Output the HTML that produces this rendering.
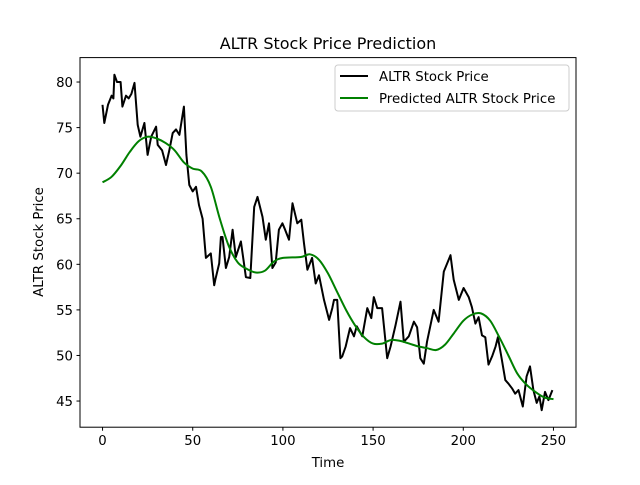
<!DOCTYPE html>
<html><head><meta charset="utf-8"><style>
body{margin:0;background:#fff}
svg text{font-family:"DejaVu Sans","Liberation Sans",sans-serif;fill:#000}
</style></head><body>
<svg id="chart" width="640" height="480" xmlns="http://www.w3.org/2000/svg">
<rect width="640" height="480" fill="#fff"/>
<text x="328" y="49" font-size="16" text-anchor="middle">ALTR Stock Price Prediction</text>
<text x="328" y="467" font-size="13.3" text-anchor="middle">Time</text>
<text x="0" y="0" font-size="13.3" text-anchor="middle" transform="translate(43,242) rotate(-90)">ALTR Stock Price</text>
<g id="ticks"></g>
<g id="series"></g>
<rect x="80" y="57.6" width="496" height="369.6" fill="none" stroke="#000" stroke-width="1"/>
<g>
<rect x="335" y="65" width="234" height="46" rx="3" fill="#fff" fill-opacity="0.8" stroke="#ccc"/>
<line x1="340" y1="76" x2="368" y2="76" stroke="#000" stroke-width="2"/>
<text x="379" y="81" font-size="13.3">ALTR Stock Price</text>
<line x1="340" y1="98" x2="368" y2="98" stroke="green" stroke-width="2"/>
<text x="379" y="103" font-size="13.3">Predicted ALTR Stock Price</text>
</g>
</svg>
<script>
const actualTimes=[0,1,3,5,6,6.6,8,10,11,13,14.5,16,17.7,19.5,21,23.2,25,27,29.7,30.6,33,35.2,37,38.9,40.7,42.6,45.1,46.5,48.1,50,51.8,53.5,55.5,57.3,60,61.9,62.5,64.7,65.6,66.5,68.4,70.2,72.1,73.9,76.7,79.5,81.9,84.1,85.9,88.7,90.5,92.3,94.2,96,97.8,99.7,101.2,103.4,105.3,108,110.2,111.7,113.6,116.2,118.2,120,122.8,125.6,127.4,128.3,130.1,131.9,132.9,134.8,137.2,139.4,140.9,144,146.8,149,150.4,152.3,155,157.8,159.7,162.4,165.2,167,169.8,172.6,174.4,176.2,178.1,179.9,183.6,186.3,189.2,192.9,194.7,197.5,200.2,203,204.8,206.7,208.5,210.4,212.2,214,216,217.9,219.2,221.4,223.3,225.1,227,228.8,230.6,233,235.1,237,238.9,240.7,242.2,243.5,245.3,247.2,249.4];
const actualPrices=[77.5,75.5,77.5,78.5,78.2,80.8,80,80,77.3,78.5,78.2,78.7,79.9,75.3,74,75.5,72,74,75.1,73.1,72.5,70.9,72.5,74.4,74.8,74.2,77.3,72,68.7,68,68.5,66.5,65,60.7,61.2,57.7,58.3,60.1,63,63,59.6,60.8,63.8,60.8,62.5,58.6,58.5,66.3,67.4,65.2,62.7,64.5,59.6,60.2,63.8,64.5,63.8,62.7,66.7,64.5,64.9,62.3,59.4,60.7,57.9,58.8,56.1,53.9,55.2,56.1,56.1,49.7,49.9,51,53,52.1,53.2,52.1,55.2,54.1,56.4,55.2,55.2,49.7,51,53.3,55.9,51.5,52.1,53.7,53.1,49.7,49.1,51.5,55,53.7,59.2,61,58.3,56.1,57.4,56.4,55.3,53.5,54.2,52.2,52,49,49.9,51,52,49.5,47.3,46.9,46.4,45.8,46.2,44.4,47.7,48.8,46.2,44.8,45.5,44,46,45.1,46.2];
const predTimes=[0,5,10,15,20,25,30,35,40,45,50,55,60,65,70,75,80,85,90,95,100,110,115,120,125,130,135,140,145,150,155,160,165,170,175,180,185,190,195,200,205,210,215,220,225,230,235,240,245,250];
const predPrices=[69,69.6,70.8,72.3,73.5,74,73.8,73.3,72.5,71.2,70.5,70.2,68.5,65,62,60.2,59.5,59.1,59.3,60.3,60.7,60.8,61.1,60.5,59,57,55,53.3,52,51.3,51.3,51.7,51.6,51.3,51,50.8,50.6,51.2,52.5,53.8,54.5,54.6,53.8,52,50,48,46.8,46,45.4,45.2];
const xTicks=[0,50,100,150,200,250];
const yTicks=[45,50,55,60,65,70,75,80];
const L=80,R=576,T=57.6,B=427.2,X0=-12.5,X1=262.5,Y0=42.13,Y1=82.68;
function xs(t){return L+(t-X0)/(X1-X0)*(R-L);}
function ys(v){return B-(v-Y0)/(Y1-Y0)*(B-T);}
const NS="http://www.w3.org/2000/svg";
const tg=document.getElementById('ticks');
xTicks.forEach(t=>{
  const l=document.createElementNS(NS,'line');
  
  
  l.setAttribute('x1',xs(t));l.setAttribute('x2',xs(t));l.setAttribute('y1',B);l.setAttribute('y2',B+3.5);l.setAttribute('stroke','#000');
  tg.appendChild(l);
  const tx=document.createElementNS(NS,'text');
  
  
  tx.setAttribute('x',xs(t));tx.setAttribute('y',B+18);tx.setAttribute('font-size','13.3');tx.setAttribute('text-anchor','middle');
  tx.textContent=t;tg.appendChild(tx);
});
yTicks.forEach(v=>{
  const l=document.createElementNS(NS,'line');
  
  
  l.setAttribute('x1',L-3.5);l.setAttribute('x2',L);l.setAttribute('y1',ys(v));l.setAttribute('y2',ys(v));l.setAttribute('stroke','#000');
  tg.appendChild(l);
  const tx=document.createElementNS(NS,'text');
  
  
  tx.setAttribute('x',L-7);tx.setAttribute('y',ys(v)+5);tx.setAttribute('font-size','13.3');tx.setAttribute('text-anchor','end');
  tx.textContent=v;tg.appendChild(tx);
});
const sg=document.getElementById('series');
function line(ts,vs,color,name){
  const p=document.createElementNS(NS,'polyline');
  
  
  p.setAttribute('points',ts.map((t,i)=>xs(t).toFixed(1)+','+ys(vs[i]).toFixed(1)).join(' '));
  p.setAttribute('fill','none');p.setAttribute('stroke',color);p.setAttribute('stroke-width','2');p.setAttribute('stroke-linejoin','round');
  sg.appendChild(p);
}
function smoothLine(ts,vs,color,name){
  const pts=ts.map((t,i)=>[xs(t),ys(vs[i])]);
  let d='M'+pts[0][0].toFixed(1)+','+pts[0][1].toFixed(1);
  for(let i=0;i<pts.length-1;i++){
    const p0=pts[Math.max(i-1,0)],p1=pts[i],p2=pts[i+1],p3=pts[Math.min(i+2,pts.length-1)];
    const c1=[p1[0]+(p2[0]-p0[0])/6,p1[1]+(p2[1]-p0[1])/6];
    const c2=[p2[0]-(p3[0]-p1[0])/6,p2[1]-(p3[1]-p1[1])/6];
    d+=' C'+c1[0].toFixed(1)+','+c1[1].toFixed(1)+' '+c2[0].toFixed(1)+','+c2[1].toFixed(1)+' '+p2[0].toFixed(1)+','+p2[1].toFixed(1);
  }
  const p=document.createElementNS(NS,'path');
  
  
  p.setAttribute('d',d);
  p.setAttribute('fill','none');p.setAttribute('stroke',color);p.setAttribute('stroke-width','2');
  sg.appendChild(p);
}
line(actualTimes,actualPrices,'#000','actual-price-line');
smoothLine(predTimes,predPrices,'green','predicted-price-line');
</script>
</body></html>
